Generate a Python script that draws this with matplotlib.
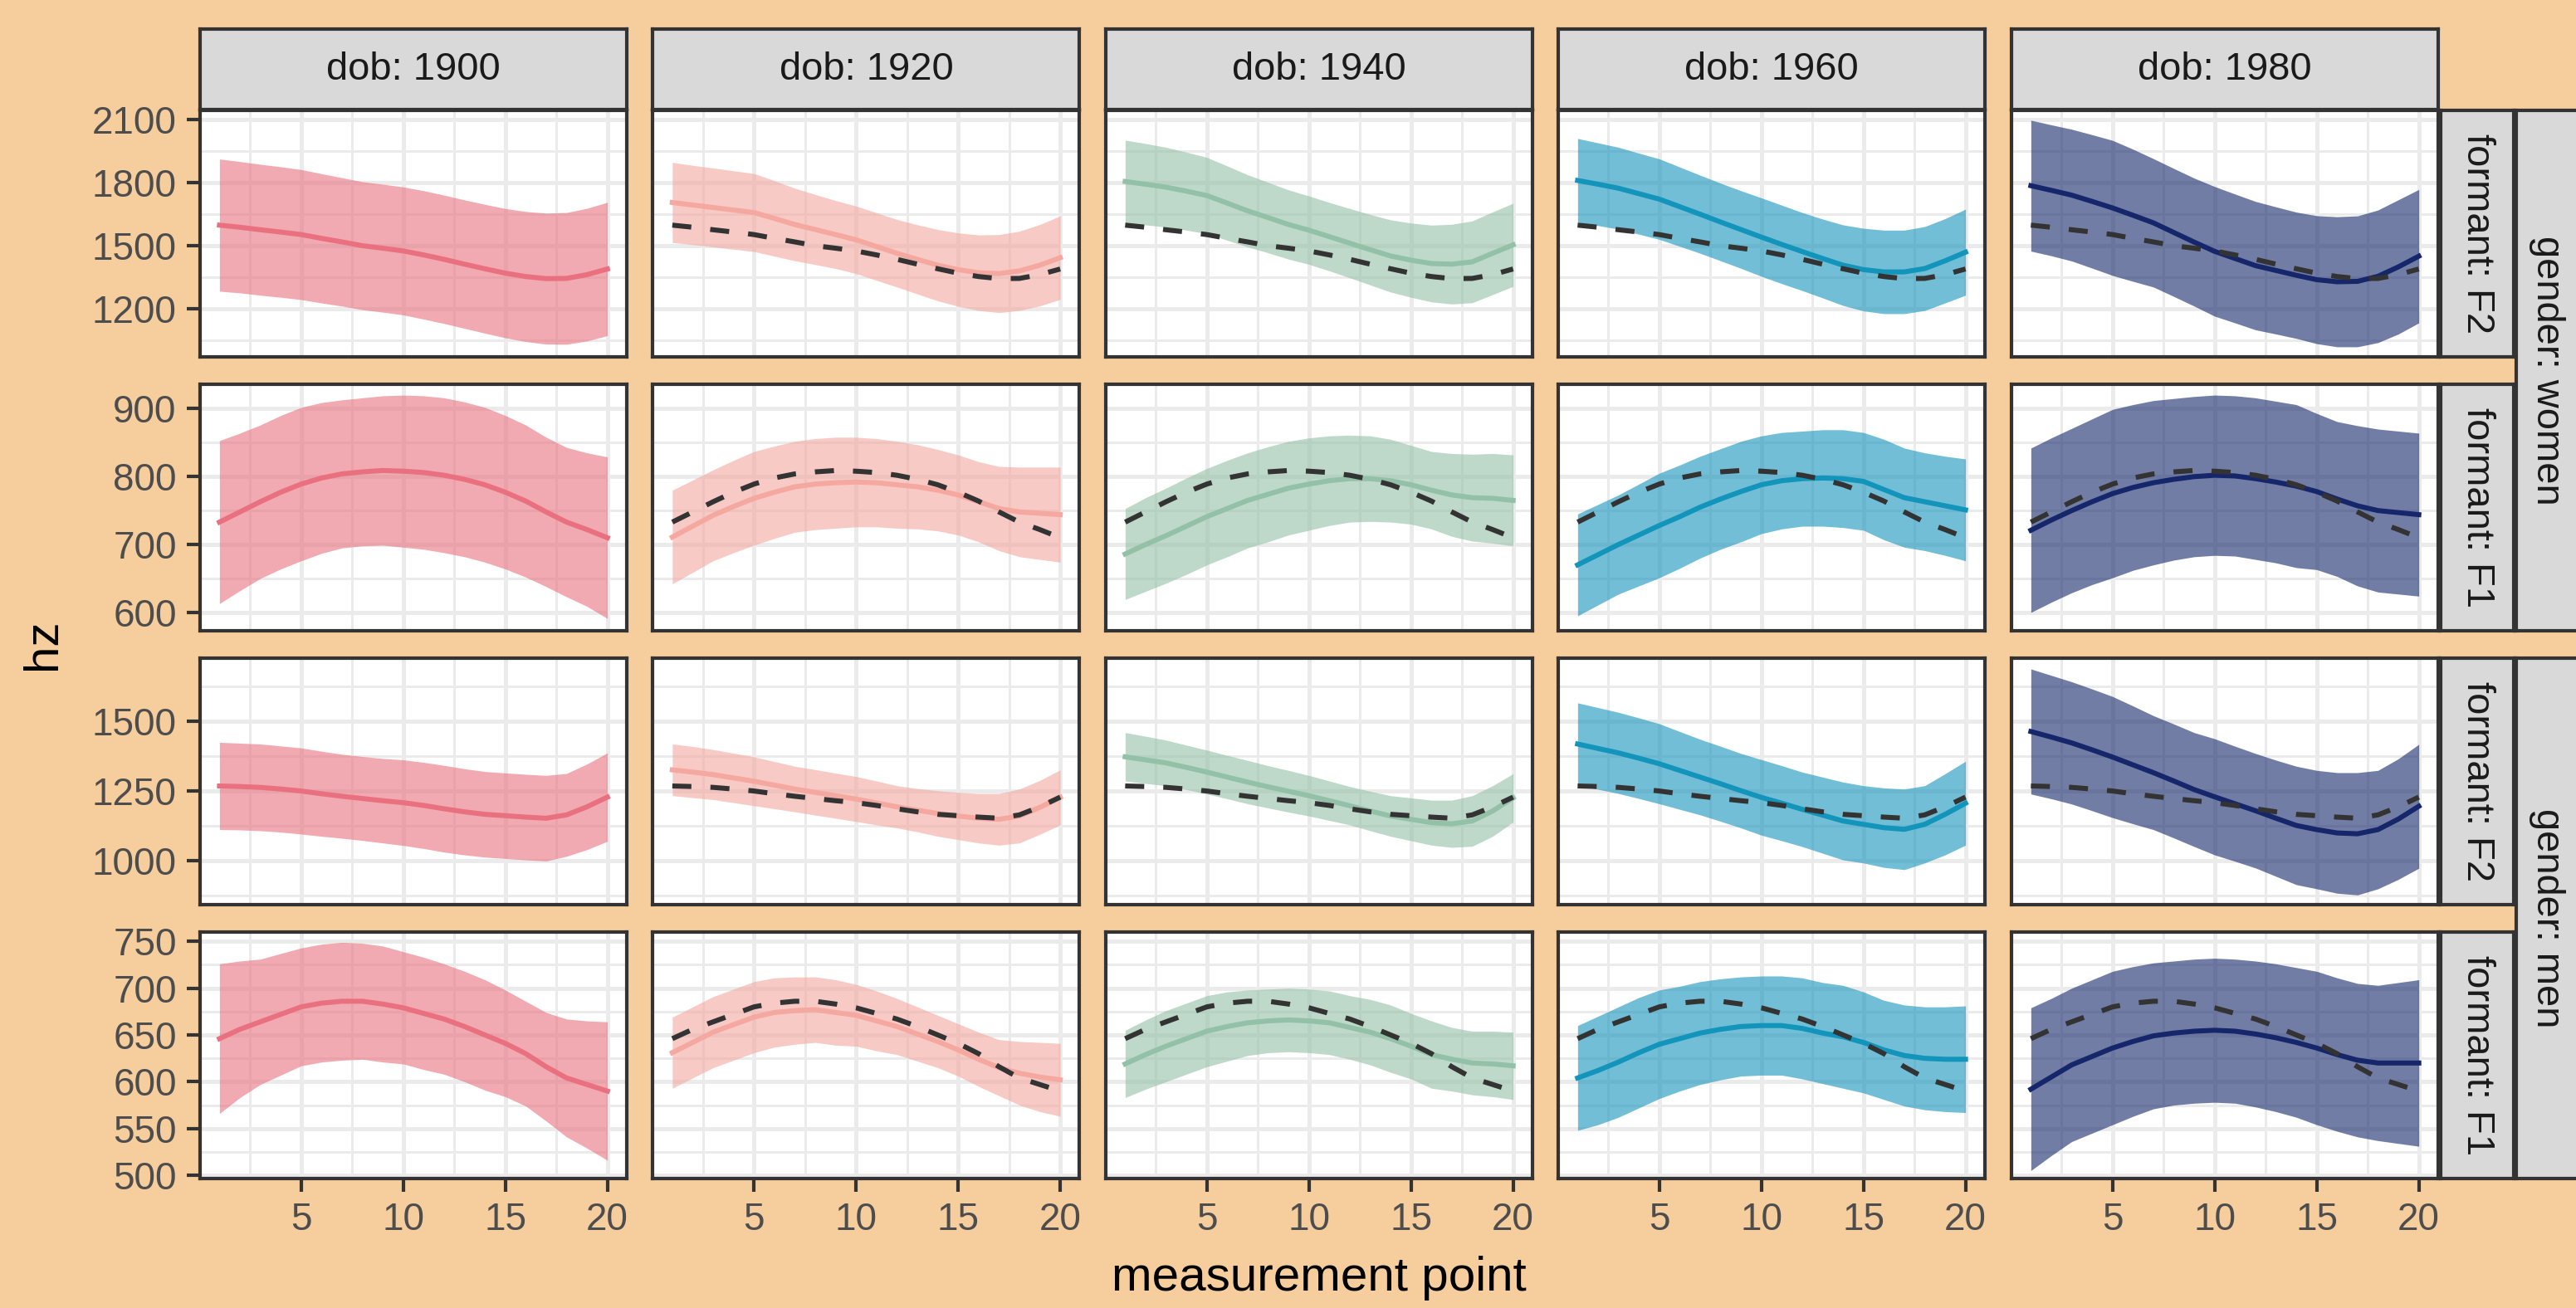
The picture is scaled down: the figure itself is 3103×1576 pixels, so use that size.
import matplotlib
matplotlib.use("Agg")
import matplotlib.pyplot as plt
import numpy as np

plt.rcParams['font.family'] = ['Liberation Sans', 'DejaVu Sans']

# ---------------- data ----------------
x_points = list(range(1, 21))
dobs = [1900, 1920, 1940, 1960, 1980]
genders = ["women", "women", "men", "men"]
formants = ["F2", "F1", "F2", "F1"]

women_F2_mean = {
    1900: [1598, 1588, 1576, 1565, 1553, 1535, 1518, 1500, 1488, 1475, 1456, 1435, 1412, 1390, 1369, 1353, 1343, 1344, 1362, 1389],
    1920: [1706, 1694, 1682, 1670, 1658, 1630, 1601, 1577, 1553, 1528, 1496, 1464, 1435, 1407, 1386, 1371, 1367, 1380, 1407, 1443],
    1940: [1806, 1793, 1779, 1760, 1739, 1703, 1666, 1634, 1601, 1574, 1543, 1512, 1481, 1451, 1431, 1415, 1412, 1423, 1464, 1504],
    1960: [1811, 1793, 1774, 1748, 1722, 1686, 1650, 1613, 1577, 1541, 1506, 1472, 1439, 1407, 1386, 1375, 1375, 1391, 1428, 1469],
    1980: [1786, 1764, 1741, 1711, 1680, 1645, 1609, 1563, 1517, 1473, 1439, 1405, 1382, 1359, 1338, 1328, 1330, 1354, 1399, 1450],
}
women_F2_sd = {
    1900: [315, 313, 312, 311, 310, 308, 306, 305, 305, 305, 306, 306, 306, 307, 308, 310, 312, 314, 316, 318],
    1920: [191, 189, 188, 187, 186, 180, 173, 167, 162, 161, 161, 161, 165, 170, 175, 180, 186, 189, 194, 199],
    1940: [197, 194, 190, 186, 182, 177, 172, 168, 165, 163, 163, 165, 168, 172, 177, 183, 190, 195, 197, 198],
    1960: [200, 197, 195, 193, 192, 189, 186, 185, 185, 187, 187, 186, 188, 192, 197, 199, 199, 200, 201, 205],
    1980: [312, 312, 314, 318, 322, 315, 306, 305, 305, 309, 307, 306, 303, 301, 305, 310, 312, 316, 320, 318],
}
women_F1_mean = {
    1900: [733, 748, 763, 777, 789, 798, 804, 807, 809, 808, 806, 802, 796, 788, 777, 764, 748, 733, 722, 710],
    1920: [711, 727, 743, 756, 768, 777, 785, 789, 791, 792, 791, 788, 785, 780, 773, 763, 753, 748, 746, 744],
    1940: [686, 700, 713, 727, 741, 753, 765, 774, 783, 789, 794, 797, 797, 794, 788, 780, 773, 769, 768, 765],
    1960: [670, 685, 700, 714, 728, 741, 755, 767, 778, 788, 794, 797, 798, 797, 793, 781, 769, 763, 757, 751],
    1980: [721, 736, 750, 763, 775, 784, 791, 796, 800, 802, 801, 797, 792, 786, 778, 767, 757, 750, 747, 744],
}
women_F1_sd = {
    1900: [120, 116, 113, 113, 113, 111, 109, 109, 110, 112, 113, 114, 114, 114, 113, 112, 110, 110, 113, 119],
    1920: [69, 68, 67, 68, 69, 68, 67, 67, 67, 66, 65, 64, 62, 60, 59, 59, 62, 66, 68, 70],
    1940: [67, 69, 70, 71, 71, 71, 70, 70, 69, 68, 66, 64, 63, 61, 58, 57, 61, 64, 66, 67],
    1960: [75, 74, 73, 75, 77, 76, 75, 74, 74, 72, 71, 70, 71, 72, 72, 74, 73, 72, 73, 75],
    1980: [121, 121, 121, 122, 124, 122, 121, 119, 118, 118, 118, 119, 119, 120, 115, 114, 118, 120, 120, 120],
}
men_F2_mean = {
    1900: [1268, 1266, 1263, 1257, 1250, 1240, 1231, 1223, 1215, 1208, 1198, 1186, 1175, 1166, 1161, 1156, 1152, 1164, 1193, 1228],
    1920: [1326, 1318, 1309, 1297, 1285, 1271, 1257, 1245, 1233, 1221, 1207, 1193, 1181, 1169, 1160, 1152, 1148, 1160, 1191, 1227],
    1940: [1373, 1362, 1351, 1335, 1318, 1300, 1282, 1265, 1249, 1233, 1215, 1197, 1178, 1160, 1148, 1136, 1132, 1142, 1178, 1225],
    1960: [1419, 1403, 1387, 1368, 1348, 1324, 1300, 1276, 1251, 1227, 1206, 1184, 1163, 1142, 1130, 1118, 1112, 1130, 1166, 1206],
    1980: [1464, 1444, 1423, 1398, 1372, 1344, 1316, 1286, 1255, 1229, 1204, 1179, 1152, 1126, 1111, 1099, 1096, 1111, 1149, 1195],
}
men_F2_sd = {
    1900: [157, 156, 156, 155, 155, 153, 151, 151, 152, 154, 155, 156, 155, 154, 154, 154, 154, 149, 154, 159],
    1920: [93, 92, 90, 89, 88, 85, 82, 82, 81, 81, 79, 76, 78, 82, 85, 89, 93, 97, 97, 99],
    1940: [87, 85, 82, 80, 79, 78, 78, 76, 75, 73, 71, 69, 71, 73, 77, 81, 85, 91, 91, 87],
    1960: [148, 147, 146, 145, 144, 140, 136, 135, 134, 136, 135, 134, 137, 140, 139, 143, 145, 139, 146, 151],
    1980: [225, 222, 220, 219, 218, 212, 205, 205, 205, 209, 207, 206, 209, 213, 213, 217, 220, 213, 217, 223],
}
men_F1_mean = {
    1900: [646, 656, 664, 672, 680, 684, 686, 686, 683, 679, 673, 667, 659, 650, 641, 630, 616, 604, 597, 590],
    1920: [631, 642, 653, 661, 669, 674, 676, 677, 674, 671, 665, 659, 651, 643, 634, 624, 615, 609, 605, 602],
    1940: [619, 629, 638, 646, 654, 659, 663, 665, 666, 665, 663, 658, 653, 646, 638, 629, 624, 620, 619, 617],
    1960: [604, 612, 621, 631, 640, 646, 652, 656, 659, 660, 660, 657, 652, 648, 642, 634, 628, 625, 624, 624],
    1980: [592, 605, 618, 627, 636, 643, 649, 652, 654, 655, 654, 651, 647, 642, 636, 629, 623, 620, 620, 620],
}
men_F1_sd = {
    1900: [80, 73, 67, 65, 63, 63, 63, 62, 62, 60, 60, 59, 59, 59, 57, 56, 58, 63, 68, 74],
    1920: [38, 38, 38, 38, 38, 37, 36, 35, 35, 33, 32, 30, 29, 28, 28, 29, 30, 34, 37, 39],
    1940: [36, 37, 38, 38, 38, 37, 35, 34, 34, 34, 34, 34, 35, 36, 35, 36, 34, 34, 35, 36],
    1960: [56, 58, 59, 59, 58, 56, 55, 54, 53, 53, 53, 54, 54, 55, 54, 53, 54, 55, 56, 57],
    1980: [87, 84, 82, 82, 82, 80, 78, 77, 77, 77, 77, 78, 79, 80, 82, 82, 82, 83, 86, 89],
}

row_means = [women_F2_mean, women_F1_mean, men_F2_mean, men_F1_mean]
row_sds = [women_F2_sd, women_F1_sd, men_F2_sd, men_F1_sd]

y_major = [[1200, 1500, 1800, 2100], [600, 700, 800, 900], [1000, 1250, 1500], [500, 550, 600, 650, 700, 750]]
y_minor = [[1050, 1350, 1650, 1950], [650, 750, 850], [875, 1125, 1375, 1625], [525, 575, 625, 675, 725]]
y_limits = [(970, 2145), (573, 936), (841, 1728), (496.5, 760)]
x_major = [5, 10, 15, 20]
x_minor = [2.5, 7.5, 12.5, 17.5]

line_colors = {1900: '#E9717F', 1920: '#F4A8A0', 1940: '#93C1A7', 1960: '#1294BB', 1980: '#15266A'}

# ---------------- layout ----------------
W, H = 3104, 1576
DPI = 300
BG = '#F6CD9D'
fig = plt.figure(figsize=(W / DPI, H / DPI), dpi=DPI, facecolor=BG)

col_left = [241, 786.5, 1332, 1877, 2423]
panel_w = 514
row_top = [133, 463, 793, 1123]
panel_h = 297


def rect(x0, y0, w, h):
    return [x0 / W, 1 - (y0 + h) / H, w / W, h / H]


border = '#333333'
grid_c = '#EBEBEB'

for r in range(4):
    for c, dob in enumerate(dobs):
        ax = fig.add_axes(rect(col_left[c], row_top[r], panel_w, panel_h))
        ax.set_facecolor('white')
        ax.set_xlim(0.05, 20.95)
        ax.set_ylim(*y_limits[r])
        ax.set_xticks(x_major)
        ax.set_xticks(x_minor, minor=True)
        ax.set_yticks(y_major[r])
        ax.set_yticks(y_minor[r], minor=True)
        ax.set_axisbelow(True)
        ax.grid(which='major', color=grid_c, linewidth=1.2)
        ax.grid(which='minor', color=grid_c, linewidth=0.7)
        for s in ax.spines.values():
            s.set_color(border)
            s.set_linewidth(1.0)
        ax.tick_params(which='minor', length=0)
        ax.tick_params(which='major', length=3.8, width=1.0, color=border,
                       labelsize=11, labelcolor='#4D4D4D', pad=3)
        if c != 0:
            ax.tick_params(axis='y', length=0, labelleft=False)
        if r != 3:
            ax.tick_params(axis='x', length=0, labelbottom=False)

        m = np.array(row_means[r][dob], dtype=float)
        sd = np.array(row_sds[r][dob], dtype=float)
        col = line_colors[dob]
        ax.fill_between(x_points, m - sd, m + sd, color=col, alpha=0.6, linewidth=0, zorder=2)
        ax.plot(x_points, m, color=col, linewidth=1.45, zorder=3, solid_joinstyle='round')
        if dob != 1900:
            ax.plot(x_points, row_means[r][1900], color='#333333', linewidth=1.45,
                    dashes=(3.8, 3.8), zorder=4)

        # column strips
        if r == 0:
            sax = fig.add_axes(rect(col_left[c], 35, panel_w, 97))
            sax.set_facecolor('#D9D9D9')
            sax.set_xticks([]); sax.set_yticks([])
            for s in sax.spines.values():
                s.set_color(border); s.set_linewidth(1.0)
            sax.text(0.5, 0.5, f"dob: {dob}", ha='center', va='center', fontsize=11.3,
                     color='#1A1A1A', transform=sax.transAxes)
    # formant strip
    fax = fig.add_axes(rect(2940, row_top[r], 88, panel_h))
    fax.set_facecolor('#D9D9D9')
    fax.set_xticks([]); fax.set_yticks([])
    for s in fax.spines.values():
        s.set_color(border); s.set_linewidth(1.0)
    fax.text(0.5, 0.5, f"formant: {formants[r]}", ha='center', va='center', rotation=-90,
             fontsize=11.3, color='#1A1A1A', transform=fax.transAxes)

# gender strips
for g, (t0, t1) in zip(["women", "men"], [(row_top[0], row_top[1] + panel_h), (row_top[2], row_top[3] + panel_h)]):
    gax = fig.add_axes(rect(3031, t0, 90, t1 - t0))
    gax.set_facecolor('#D9D9D9')
    gax.set_xticks([]); gax.set_yticks([])
    for s in gax.spines.values():
        s.set_color(border); s.set_linewidth(1.0)
    gax.text(0.41, 0.5, f"gender: {g}", ha='center', va='center', rotation=-90,
             fontsize=11.3, color='#1A1A1A', transform=gax.transAxes)

fig.text((241 + 2937) / 2 / W, 1 - 1540 / H, "measurement point", ha='center', va='center',
         fontsize=14, color='black')
fig.text(52 / W, 1 - 776 / H, "hz", ha='center', va='center', rotation=90,
         fontsize=14, color='black')

fig.savefig("out.png", dpi=DPI, facecolor=BG)
